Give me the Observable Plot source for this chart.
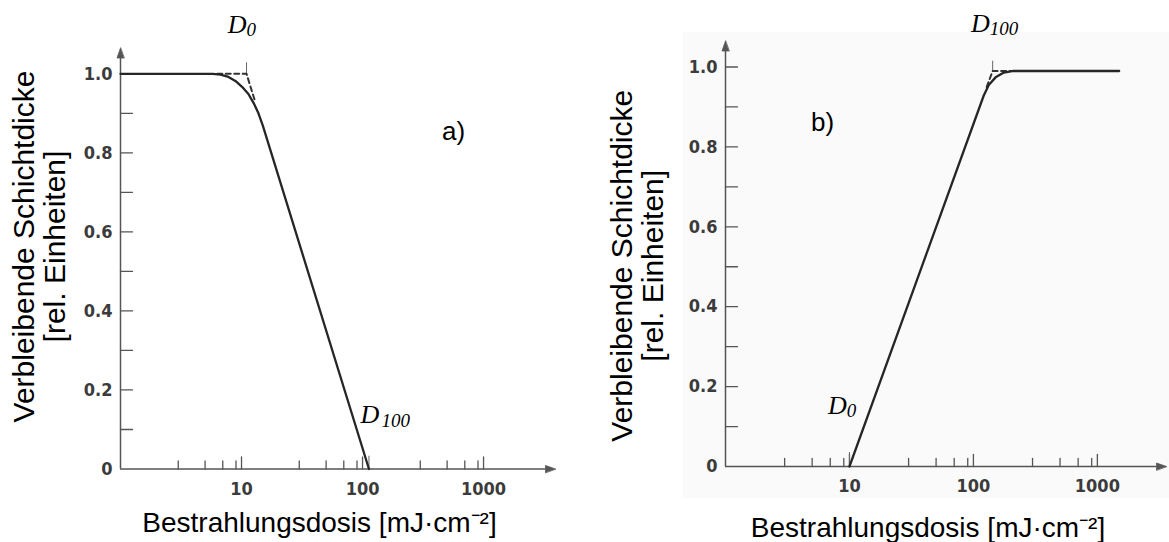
<!DOCTYPE html>
<html>
<head>
<meta charset="utf-8">
<script src="https://cdn.jsdelivr.net/npm/d3@7"></script>
<script src="https://cdn.jsdelivr.net/npm/@observablehq/plot@0.6"></script>
<style>
  body { margin: 0; background: #fff; }
  #chart { position: relative; width: 1169px; height: 542px; overflow: hidden; }
  #scan { position: absolute; left: 683px; top: 32px; width: 486px; height: 466px; background: #fafafa; }
  #pa, #pb { position: absolute; top: 0; }
  #pa { left: 0; width: 580px; }
  #pb { left: 580px; width: 589px; }
</style>
</head>
<body>
<div id="chart"><div id="scan"></div><div id="pa"></div><div id="pb"></div></div>
<script>
// Axis ticks: dose on a log axis (mJ·cm⁻²), remaining thickness (relative units)
const decadeTicks = [10, 100, 1000];
const minorTicks = [3, 5, 7, 9, 30, 50, 70, 90, 300, 500, 700, 900];
const thicknessLabels = [0, 0.2, 0.4, 0.6, 0.8, 1.0];
const thicknessTicks = [0.1, 0.2, 0.3, 0.4, 0.5, 0.6, 0.7, 0.8, 0.9, 1.0];

const yTitle = "Verbleibende Schichtdicke\n[rel. Einheiten]";
const xTitle = "Bestrahlungsdosis [mJ·cm⁻²]";

// a) positive resist: film is removed with increasing dose
const doseA  = [1, 5.8, 6.7, 7.8, 8.9, 10.1, 11.4, 12.6, 13.8, 15, 113];
const thickA = [1, 1, 0.998, 0.992, 0.982, 0.967, 0.949, 0.926, 0.9, 0.869, 0];
const tangentDoseA  = [6.3, 11, 12.8];
const tangentThickA = [1, 1, 0.935];
const D0A = 11, D100A = 113;

// b) negative resist: film remains with increasing dose
const doseB  = [10, 121, 133, 151, 176, 211, 1500];
const thickB = [0, 0.928, 0.955, 0.974, 0.986, 0.99, 0.99];
const tangentDoseB  = [128, 143, 211];
const tangentThickB = [0.95, 0.99, 0.99];
const D0B = 10, D100B = 143;

const FONT_TICK = '"DejaVu Sans Condensed", "DejaVu Sans", sans-serif';
const FONT_TEXT = '"Liberation Sans", Arial, sans-serif';
const FONT_MATH = '"Liberation Serif", "Times New Roman", serif';
const INK = "#555", LABEL = "#3b3b3b", CURVE = "#262626";

// straight tick pointing along the vector direction, and a filled arrowhead
const tickShape = {draw(ctx, l) { ctx.moveTo(0, 0); ctx.lineTo(0, -l); }};
const headShape = {draw(ctx, l) { ctx.moveTo(0, -l); ctx.lineTo(-3.5, 0); ctx.lineTo(3.5, 0); ctx.closePath(); }};
const rows = (xs, ys) => xs.map((x, i) => ({x, y: ys[i]}));

// "D" with a subscript, placed next to a marker tick
function dLabel(value, yValue, sub, o) {
  const common = {x: () => value, y: () => yValue, fontFamily: FONT_MATH, fontStyle: "italic", fill: "#000", lineAnchor: "bottom"};
  return [
    Plot.text([0], {...common, text: () => "D", fontSize: 26, textAnchor: o.anchor, dx: o.dx, dy: o.dy}),
    Plot.text([0], {...common, text: () => sub, fontSize: 19, textAnchor: "start", dx: o.subDx, dy: o.dy + 3.5})
  ];
}

function panel(p) {
  const yTop = 1.04;
  return Plot.plot({
    width: p.width,
    height: 542,
    marginLeft: p.m[0], marginRight: p.m[1], marginTop: p.m[2], marginBottom: p.m[3],
    style: {background: "transparent", overflow: "visible"},
    x: {type: "log", domain: [1, p.xEnd]},
    y: {domain: [0, yTop]},
    marks: [
      // axes with arrowheads
      Plot.ruleY([0], {x1: 1, x2: p.xEnd, stroke: INK, strokeWidth: 1.5}),
      Plot.ruleX([1], {y1: 0, y2: yTop, stroke: INK, strokeWidth: 1.5}),
      Plot.vector([p.xEnd], {x: d => d, y: 0, rotate: 90, length: 10, anchor: "start", shape: headShape, fill: INK, stroke: INK, strokeWidth: 0.8}),
      Plot.vector([yTop], {x: 1, y: d => d, length: 10, anchor: "start", shape: headShape, fill: INK, stroke: INK, strokeWidth: 0.8}),
      // inward tick marks
      Plot.vector(minorTicks, {x: d => d, y: 0, length: 8, anchor: "start", shape: tickShape, stroke: INK, strokeWidth: 1.3}),
      Plot.vector(decadeTicks, {x: d => d, y: 0, length: 12, anchor: "start", shape: tickShape, stroke: INK, strokeWidth: 1.3}),
      Plot.vector(thicknessTicks, {x: 1, y: d => d, rotate: 90, length: 12, anchor: "start", shape: tickShape, stroke: INK, strokeWidth: 1.3}),
      // tick labels
      Plot.axisX({ticks: decadeTicks, tickSize: 0, tickPadding: 13, tickFormat: d => String(d), label: null,
        fontFamily: FONT_TICK, fontWeight: "bold", fontSize: 18, fill: LABEL}),
      Plot.axisY({ticks: thicknessLabels, tickSize: 0, tickPadding: 8, tickFormat: d => d === 0 ? "0" : d.toFixed(1), label: null,
        fontFamily: FONT_TICK, fontWeight: "bold", fontSize: 18, fill: LABEL}),
      // axis titles
      Plot.text([yTitle], {text: d => d, frameAnchor: "left", dx: p.yt[0], dy: p.yt[1], rotate: -90, fontSize: 30, lineHeight: 1.05,
        fontFamily: FONT_TEXT, fill: "#000", textAnchor: "middle", lineAnchor: "middle"}),
      Plot.text([xTitle], {text: d => d, frameAnchor: "bottom", dx: p.xt[0], dy: p.xt[1], fontSize: 28,
        fontFamily: FONT_TEXT, fill: "#000", textAnchor: "middle", lineAnchor: "middle"}),
      // panel letter
      Plot.text([p.letter], {text: d => d, frameAnchor: "top-left", dx: p.lt[0], dy: p.lt[1], fontSize: 26,
        fontFamily: FONT_TEXT, fill: "#000", textAnchor: "middle", lineAnchor: "middle"}),
      // D0 / D100 marker ticks
      Plot.vector(p.markers, {x: d => d.x, y: d => d.y, length: d => d.len, anchor: "start", shape: tickShape, stroke: "#666", strokeWidth: 1}),
      ...p.labels,
      // tangent construction and the measured curve
      Plot.line(rows(p.tdose, p.tthick), {x: "x", y: "y", stroke: "#333", strokeWidth: 2, strokeDasharray: "5,3.5"}),
      Plot.line(rows(p.dose, p.thick), {x: "x", y: "y", stroke: CURVE, strokeWidth: 2.3, strokeLinejoin: "round"})
    ]
  });
}

document.getElementById("pa").append(panel({
  width: 580, m: [120, 35, 57.5, 73.5], xEnd: 3250,
  yt: [-81, -17], xt: [-13.5, 54], letter: "a)", lt: [333, 73.5],
  dose: doseA, thick: thickA, tdose: tangentDoseA, tthick: tangentThickA,
  markers: [{x: D0A, y: 1, len: 26}, {x: D100A, y: 0, len: 30}],
  labels: [
    ...dLabel(D0A, 1, "0", {anchor: "end", dx: 0, dy: -41, subDx: 0}),
    ...dLabel(D100A, 0, "100", {anchor: "start", dx: -8.5, dy: -46, subDx: 12.5})
  ]
}));

document.getElementById("pb").append(panel({
  width: 589, m: [145, 13, 50.5, 76], xEnd: 3000,
  yt: [-88, 7], xt: [-13, 61.4], letter: "b)", lt: [97, 71.5],
  dose: doseB, thick: thickB, tdose: tangentDoseB, tthick: tangentThickB,
  markers: [{x: D0B, y: 0, len: 40}, {x: D100B, y: 0.99, len: 28}],
  labels: [
    ...dLabel(D0B, 0, "0", {anchor: "end", dx: -2.7, dy: -52.7, subDx: -2.7}),
    ...dLabel(D100B, 0.99, "100", {anchor: "end", dx: -3, dy: -39, subDx: -3})
  ]
}));
</script>
</body>
</html>
